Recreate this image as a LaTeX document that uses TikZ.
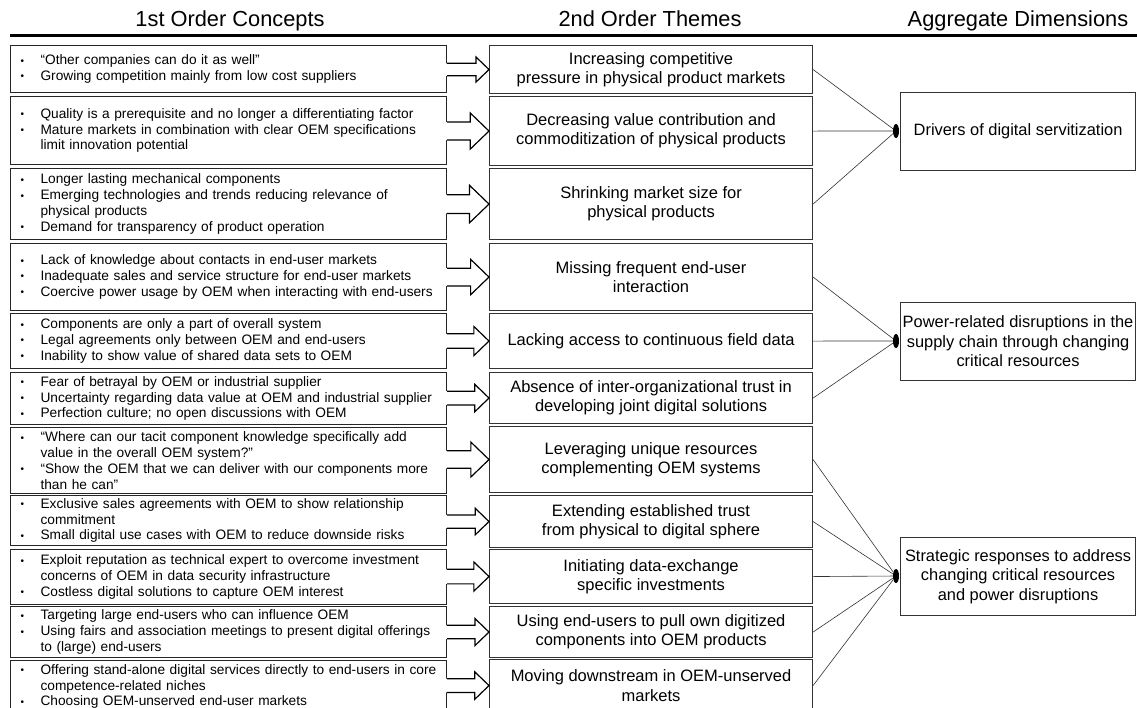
\documentclass[tikz,border=0pt]{standalone}
\usepackage{fontspec}
\setmainfont{Liberation Sans}
\usetikzlibrary{calc,shapes.geometric}
\newcommand{\bul}{\makebox[20pt][l]{\raisebox{0.6pt}{\fontsize{10}{10}\selectfont •}}}
\newcommand{\cont}{\hspace*{20pt}}
\newcommand{\blockarr}[2]{%
  \fill[white] let \p1=(#1.east), \p2=(#2.west), \p3=(#1.north), \p4=(#1.south),
    \n1={\y3-\y4}, \n2={0.13*\n1}, \n3={0.26*\n1}, \n4={\x2-0.27*\n1} in
    (\x1-1.5pt,\y2+\n2) -- (\n4,\y2+\n2) -- (\n4,\y2+\n3) -- (\x2,\y2) -- (\n4,\y2-\n3) -- (\n4,\y2-\n2) -- (\x1-1.5pt,\y2-\n2) -- cycle;
  \draw[arrline] let \p1=(#1.east), \p2=(#2.west), \p3=(#1.north), \p4=(#1.south),
    \n1={\y3-\y4}, \n2={0.13*\n1}, \n3={0.26*\n1}, \n4={\x2-0.27*\n1} in
    (\x1,\y2+\n2) -- (\n4,\y2+\n2) -- (\n4,\y2+\n3) -- (\x2,\y2) -- (\n4,\y2-\n3) -- (\n4,\y2-\n2) -- (\x1,\y2-\n2);
}
\tikzset{
  lbox/.style={draw=black!85, line width=1.1pt, anchor=north west, inner xsep=10pt, inner ysep=0pt,
    text width=416pt, align=left, font=\fontsize{13.7}{15.8}\selectfont},
  mbox/.style={draw=black!80, line width=1.1pt, anchor=north west, inner sep=0pt,
    minimum width=323pt, align=center, font=\fontsize{16.5}{19.3}\selectfont},
  rbox/.style={draw=black!80, line width=1.1pt, anchor=north west, inner sep=0pt,
    minimum width=235pt, minimum height=78pt, align=center, font=\fontsize{16.4}{19.5}\selectfont},
  headtxt/.style={anchor=base, inner sep=0pt, font=\fontsize{21.8}{26}\selectfont},
  arrline/.style={draw=black, line width=1.2pt, line join=miter},
  conn/.style={draw=black!80, line width=0.6pt},
  dotm/.style={ellipse, fill=black, inner sep=0pt, minimum width=6pt, minimum height=14pt},
}
\begin{document}
\begin{tikzpicture}[x=1pt,y=-1pt]
\useasboundingbox (0,0) rectangle (1137,707);
\clip (0,0) rectangle (1137,707);
\fill[white] (0,0) rectangle (1137,707);

% headers
\node[headtxt] (h1) at (230,26) {1st Order Concepts};
\node[headtxt] (h2) at (650,26) {2nd Order Themes};
\node[headtxt] (h3) at (1018,26) {Aggregate Dimensions};
\coordinate (ruleL) at (10,35);
\coordinate (ruleR) at (1137,35);
\draw[line width=3pt] (ruleL) -- (ruleR);

% 1st order concepts
\node[lbox, minimum height=47pt] (l1) at (10,45) {\bul “Other companies can do it as well”\\\bul Growing competition mainly from low cost suppliers};
\node[lbox, minimum height=68pt] (l2) at (10,96) {\bul Quality is a prerequisite and no longer a differentiating factor\\\bul Mature markets in combination with clear OEM specifications\\\cont limit innovation potential};
\node[lbox, minimum height=71pt] (l3) at (10,168) {\bul Longer lasting mechanical components\\\bul Emerging technologies and trends reducing relevance of\\\cont physical products\\\bul Demand for transparency of product operation};
\node[lbox, minimum height=67pt] (l4) at (10,243) {\bul Lack of knowledge about contacts in end-user markets\\\bul Inadequate sales and service structure for end-user markets\\\bul Coercive power usage by OEM when interacting with end-users};
\node[lbox, minimum height=55pt] (l5) at (10,313) {\bul Components are only a part of overall system\\\bul Legal agreements only between OEM and end-users\\\bul Inability to show value of shared data sets to OEM};
\node[lbox, minimum height=52pt] (l6) at (10,372) {\bul Fear of betrayal by OEM or industrial supplier\\\bul Uncertainty regarding data value at OEM and industrial supplier\\\bul Perfection culture; no open discussions with OEM};
\node[lbox, minimum height=66pt] (l7) at (10,427) {\bul “Where can our tacit component knowledge specifically add\\\cont value in the overall OEM system?”\\\bul “Show the OEM that we can deliver with our components more\\\cont than he can”};
\node[lbox, minimum height=50pt] (l8) at (10,495) {\bul Exclusive sales agreements with OEM to show relationship\\\cont commitment\\\bul Small digital use cases with OEM to reduce downside risks};
\node[lbox, minimum height=55pt] (l9) at (10,549) {\bul Exploit reputation as technical expert to overcome investment\\\cont concerns of OEM in data security infrastructure\\\bul Costless digital solutions to capture OEM interest};
\node[lbox, minimum height=51pt] (l10) at (10,606) {\bul Targeting large end-users who can influence OEM\\\bul Using fairs and association meetings to present digital offerings\\\cont to (large) end-users};
\node[lbox, minimum height=52pt] (l11) at (10,660) {\bul Offering stand-alone digital services directly to end-users in core\\\cont competence-related niches\\\bul Choosing OEM-unserved end-user markets};

% 2nd order themes
\node[mbox, minimum height=48pt] (m1) at (489,45) {Increasing competitive\\pressure in physical product markets};
\node[mbox, minimum height=69pt] (m2) at (489,96) {Decreasing value contribution and\\commoditization of physical products};
\node[mbox, minimum height=71pt] (m3) at (489,168) {Shrinking market size for\\physical products};
\node[mbox, minimum height=67pt] (m4) at (489,243) {Missing frequent end-user\\interaction};
\node[mbox, minimum height=55pt] (m5) at (489,313) {Lacking access to continuous field data};
\node[mbox, minimum height=51pt] (m6) at (489,372) {Absence of inter-organizational trust in\\developing joint digital solutions};
\node[mbox, minimum height=66pt] (m7) at (489,426) {Leveraging unique resources\\complementing OEM systems};
\node[mbox, minimum height=52pt] (m8) at (489,495) {Extending established trust\\from physical to digital sphere};
\node[mbox, minimum height=54pt] (m9) at (489,549) {Initiating data-exchange\\specific investments};
\node[mbox, minimum height=51pt] (m10) at (489,606) {Using end-users to pull own digitized\\components into OEM products};
\node[mbox, minimum height=52pt] (m11) at (489,659) {Moving downstream in OEM-unserved\\markets};

% aggregate dimensions
\node[rbox] (r1) at (900,92) {Drivers of digital servitization};
\node[rbox] (r2) at (900,302) {Power-related disruptions in the\\supply chain through changing\\critical resources};
\node[rbox] (r3) at (900,537) {Strategic responses to address\\changing critical resources\\and power disruptions};

% block arrows
\blockarr{l1}{m1}
\blockarr{l2}{m2}
\blockarr{l3}{m3}
\blockarr{l4}{m4}
\blockarr{l5}{m5}
\blockarr{l6}{m6}
\blockarr{l7}{m7}
\blockarr{l8}{m8}
\blockarr{l9}{m9}
\blockarr{l10}{m10}
\blockarr{l11}{m11}

% convergence markers
\node[dotm] (d1) at (896,131) {};
\node[dotm] (d2) at (896,341) {};
\node[dotm] (d3) at (896,576) {};

\draw[conn] (m1.east) -- (d1);
\draw[conn] (m2.east) -- (d1);
\draw[conn] (m3.east) -- (d1);
\draw[conn] (m4.east) -- (d2);
\draw[conn] (m5.east) -- (d2);
\draw[conn] (m6.east) -- (d2);
\draw[conn] (m7.east) -- (d3);
\draw[conn] (m8.east) -- (d3);
\draw[conn] (m9.east) -- (d3);
\draw[conn] (m10.east) -- (d3);
\draw[conn] (m11.east) -- (d3);
\end{tikzpicture}
\end{document}
